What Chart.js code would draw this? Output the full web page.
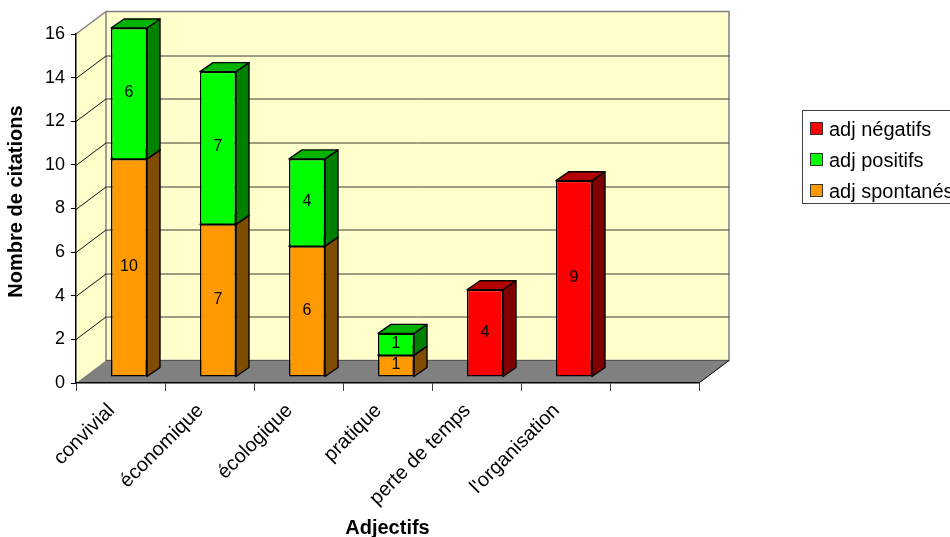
<!DOCTYPE html>
<html>
<head>
<meta charset="utf-8">
<script src="https://cdn.jsdelivr.net/npm/chart.js@4"></script>
<style>
html,body{margin:0;padding:0;background:#fff;overflow:hidden;width:950px;height:537px}
#wrap{position:relative;width:950px;height:537px;overflow:hidden}
#legend{position:absolute;left:802px;top:110px;width:170px;height:92px;border:1px solid #444;box-sizing:content-box;font:20px "Liberation Sans",Arial,sans-serif;color:#000}
#legend div{position:absolute;left:7px;white-space:nowrap;line-height:22px}
#legend i{display:inline-block;width:11px;height:11px;border:1px solid #333;margin-right:6px;vertical-align:1px}
</style>
</head>
<body>
<div id="wrap">
<canvas id="c" width="950" height="537"></canvas>
<div id="legend"></div>
</div>
<script>
var categories=["convivial","économique","écologique","pratique","perte de temps","l'organisation",""];
var spontanes=[10,7,6,1,null,null,null];
var positifs=[6,7,4,1,null,null,null];
var negatifs=[null,null,null,null,4,9,null];
var yTicksMax=16;
var yTitle="Nombre de citations";

// depth of the box and of the bars, the excel 3d look
var wallDx=30, wallDy=-22.5;
var barDx=8.5, barDy=-6;
var sideDx=13, sideDy=-9;

function poly(ctx,pts,fill,stroke,lw){
  ctx.beginPath();
  ctx.moveTo(pts[0][0],pts[0][1]);
  for(var i=1;i<pts.length;i++) ctx.lineTo(pts[i][0],pts[i][1]);
  ctx.closePath();
  if(fill){ctx.fillStyle=fill;ctx.fill();}
  if(stroke){ctx.strokeStyle=stroke;ctx.lineWidth=lw||1;ctx.stroke();}
}

var box3d={
  id:'box3d',
  beforeDraw:function(chart){
    var ctx=chart.ctx, a=chart.chartArea, y=chart.scales.y;
    var l=a.left,r=a.right,t=a.top,b=a.bottom;
    ctx.save();
    // side wall + back wall + floor
    poly(ctx,[[l,b],[l+wallDx,b+wallDy],[l+wallDx,t+wallDy],[l,t]],'#FFFFCC');
    poly(ctx,[[l+wallDx,b+wallDy],[r+wallDx,b+wallDy],[r+wallDx,t+wallDy],[l+wallDx,t+wallDy]],'#FFFFCC','#808080',1.5);
    poly(ctx,[[l,t],[l+wallDx,t+wallDy]],null,'#808080',1.5);
    y.ticks.forEach(function(tk){
      var py=Math.round(y.getPixelForValue(tk.value))+0.5;
      if(tk.value>0 && tk.value<yTicksMax){
        ctx.strokeStyle='#3c3c30';ctx.lineWidth=1;
        ctx.beginPath();ctx.moveTo(l+wallDx,py+wallDy);ctx.lineTo(r+wallDx,py+wallDy);ctx.stroke();
        ctx.strokeStyle='#111';ctx.lineWidth=1;
        ctx.beginPath();ctx.moveTo(l,py);ctx.lineTo(l+wallDx,py+wallDy);ctx.stroke();
      }
    });
    poly(ctx,[[l,b],[r,b],[r+wallDx,b+wallDy],[l+wallDx,b+wallDy]],'#808080');
    ctx.strokeStyle='#555';ctx.lineWidth=1;
    ctx.beginPath();ctx.moveTo(l+wallDx,b+wallDy);ctx.lineTo(r+wallDx,b+wallDy);ctx.stroke();
    ctx.strokeStyle='#000';ctx.lineWidth=1;
    ctx.beginPath();ctx.moveTo(r,b);ctx.lineTo(r+wallDx,b+wallDy);ctx.stroke();
    // y title sits higher than the axis centre in the original
    ctx.translate(16.5,201.5);
    ctx.rotate(-Math.PI/2);
    ctx.font='bold 20px "Liberation Sans", Arial, sans-serif';
    ctx.fillStyle='#000';
    ctx.textAlign='center';
    ctx.textBaseline='middle';
    ctx.fillText(yTitle,0,0);
    ctx.restore();
  },
  beforeDatasetsDraw:function(chart){
    var ctx=chart.ctx;
    ctx.save();
    ctx.translate(barDx,barDy);
    ctx.lineJoin='round';
    // sides and tops go first, the library paints the fronts over them
    chart.data.datasets.forEach(function(ds,d){
      chart.getDatasetMeta(d).data.forEach(function(bar,i){
        if(ds.data[i]===null) return;
        var xr=bar.x+bar.width/2, xl=bar.x-bar.width/2;
        poly(ctx,[[xr,bar.y],[xr+sideDx,bar.y+sideDy],[xr+sideDx,bar.base+sideDy],[xr,bar.base]],ds.sideColor,'#000',1.4);
        poly(ctx,[[xl,bar.y],[xl+sideDx,bar.y+sideDy],[xr+sideDx,bar.y+sideDy],[xr,bar.y]],ds.topColor,'#000',1.4);
      });
    });
  },
  afterDatasetsDraw:function(chart){
    var ctx=chart.ctx;
    var zero=chart.scales.y.getPixelForValue(0);
    ctx.font='16px "Liberation Sans", Arial, sans-serif';
    ctx.fillStyle='#000';
    ctx.textAlign='center';
    ctx.textBaseline='middle';
    chart.data.datasets.forEach(function(ds,d){
      chart.getDatasetMeta(d).data.forEach(function(bar,i){
        if(ds.data[i]===null) return;
        // single line where two stacked parts meet
        if(Math.abs(bar.base-zero)>1){
          ctx.strokeStyle='#000';ctx.lineWidth=1.5;
          ctx.beginPath();ctx.moveTo(bar.x-bar.width/2,bar.base);ctx.lineTo(bar.x+bar.width/2,bar.base);ctx.stroke();
        }
        ctx.fillText(String(ds.data[i]),bar.x,(bar.y+bar.base)/2-1);
      });
    });
    ctx.restore();
  }
};

var font='"Liberation Sans", Arial, sans-serif';
var chart=new Chart(document.getElementById('c'),{
  type:'bar',
  data:{
    labels:categories,
    datasets:[
      {label:'adj spontanés',data:spontanes,backgroundColor:'#FF9900',sideColor:'#804D00',topColor:'#B36B00',clip:false,borderSkipped:false},
      {label:'adj positifs',data:positifs,backgroundColor:'#00FF00',sideColor:'#008000',topColor:'#00B300',clip:false,borderSkipped:'bottom'},
      {label:'adj négatifs',data:negatifs,backgroundColor:'#FF0000',sideColor:'#800000',topColor:'#B30000',clip:false,borderSkipped:false}
    ]
  },
  options:{
    responsive:false,
    animation:false,
    layout:{padding:{top:34,right:251,left:0,bottom:0}},
    datasets:{bar:{barPercentage:36/89,categoryPercentage:1,borderColor:'#000',borderWidth:1.5}},
    plugins:{legend:{display:false},tooltip:{enabled:false}},
    scales:{
      x:{
        stacked:true,
        afterFit:function(s){s.height=154;},
        grid:{drawOnChartArea:false,drawTicks:true,tickLength:8,color:'#444',lineWidth:1},
        border:{color:'#000',width:1.5},
        ticks:{minRotation:45,maxRotation:45,autoSkip:false,color:'#000',padding:8,labelOffset:-9,font:{family:font,size:20}},
        title:{display:true,text:'Adjectifs',color:'#000',font:{family:font,size:20,weight:'bold'},padding:{top:0,bottom:-3}}
      },
      y:{
        stacked:true,
        min:0,max:yTicksMax,
        afterFit:function(s){s.width=76;},
        grid:{drawOnChartArea:false,drawTicks:true,tickLength:5,color:'#000'},
        border:{color:'#000',width:1.5},
        ticks:{stepSize:2,color:'#000',padding:6,font:{family:font,size:18}}
      }
    }
  },
  plugins:[box3d]
});

// excel lists the legend the other way round
var leg=document.getElementById('legend');
chart.data.datasets.slice().reverse().forEach(function(ds,i){
  var row=document.createElement('div');
  row.style.top=(7+i*31)+'px';
  row.innerHTML='<i style="background:'+ds.backgroundColor+'"></i>'+ds.label;
  leg.appendChild(row);
});
</script>
</body>
</html>
